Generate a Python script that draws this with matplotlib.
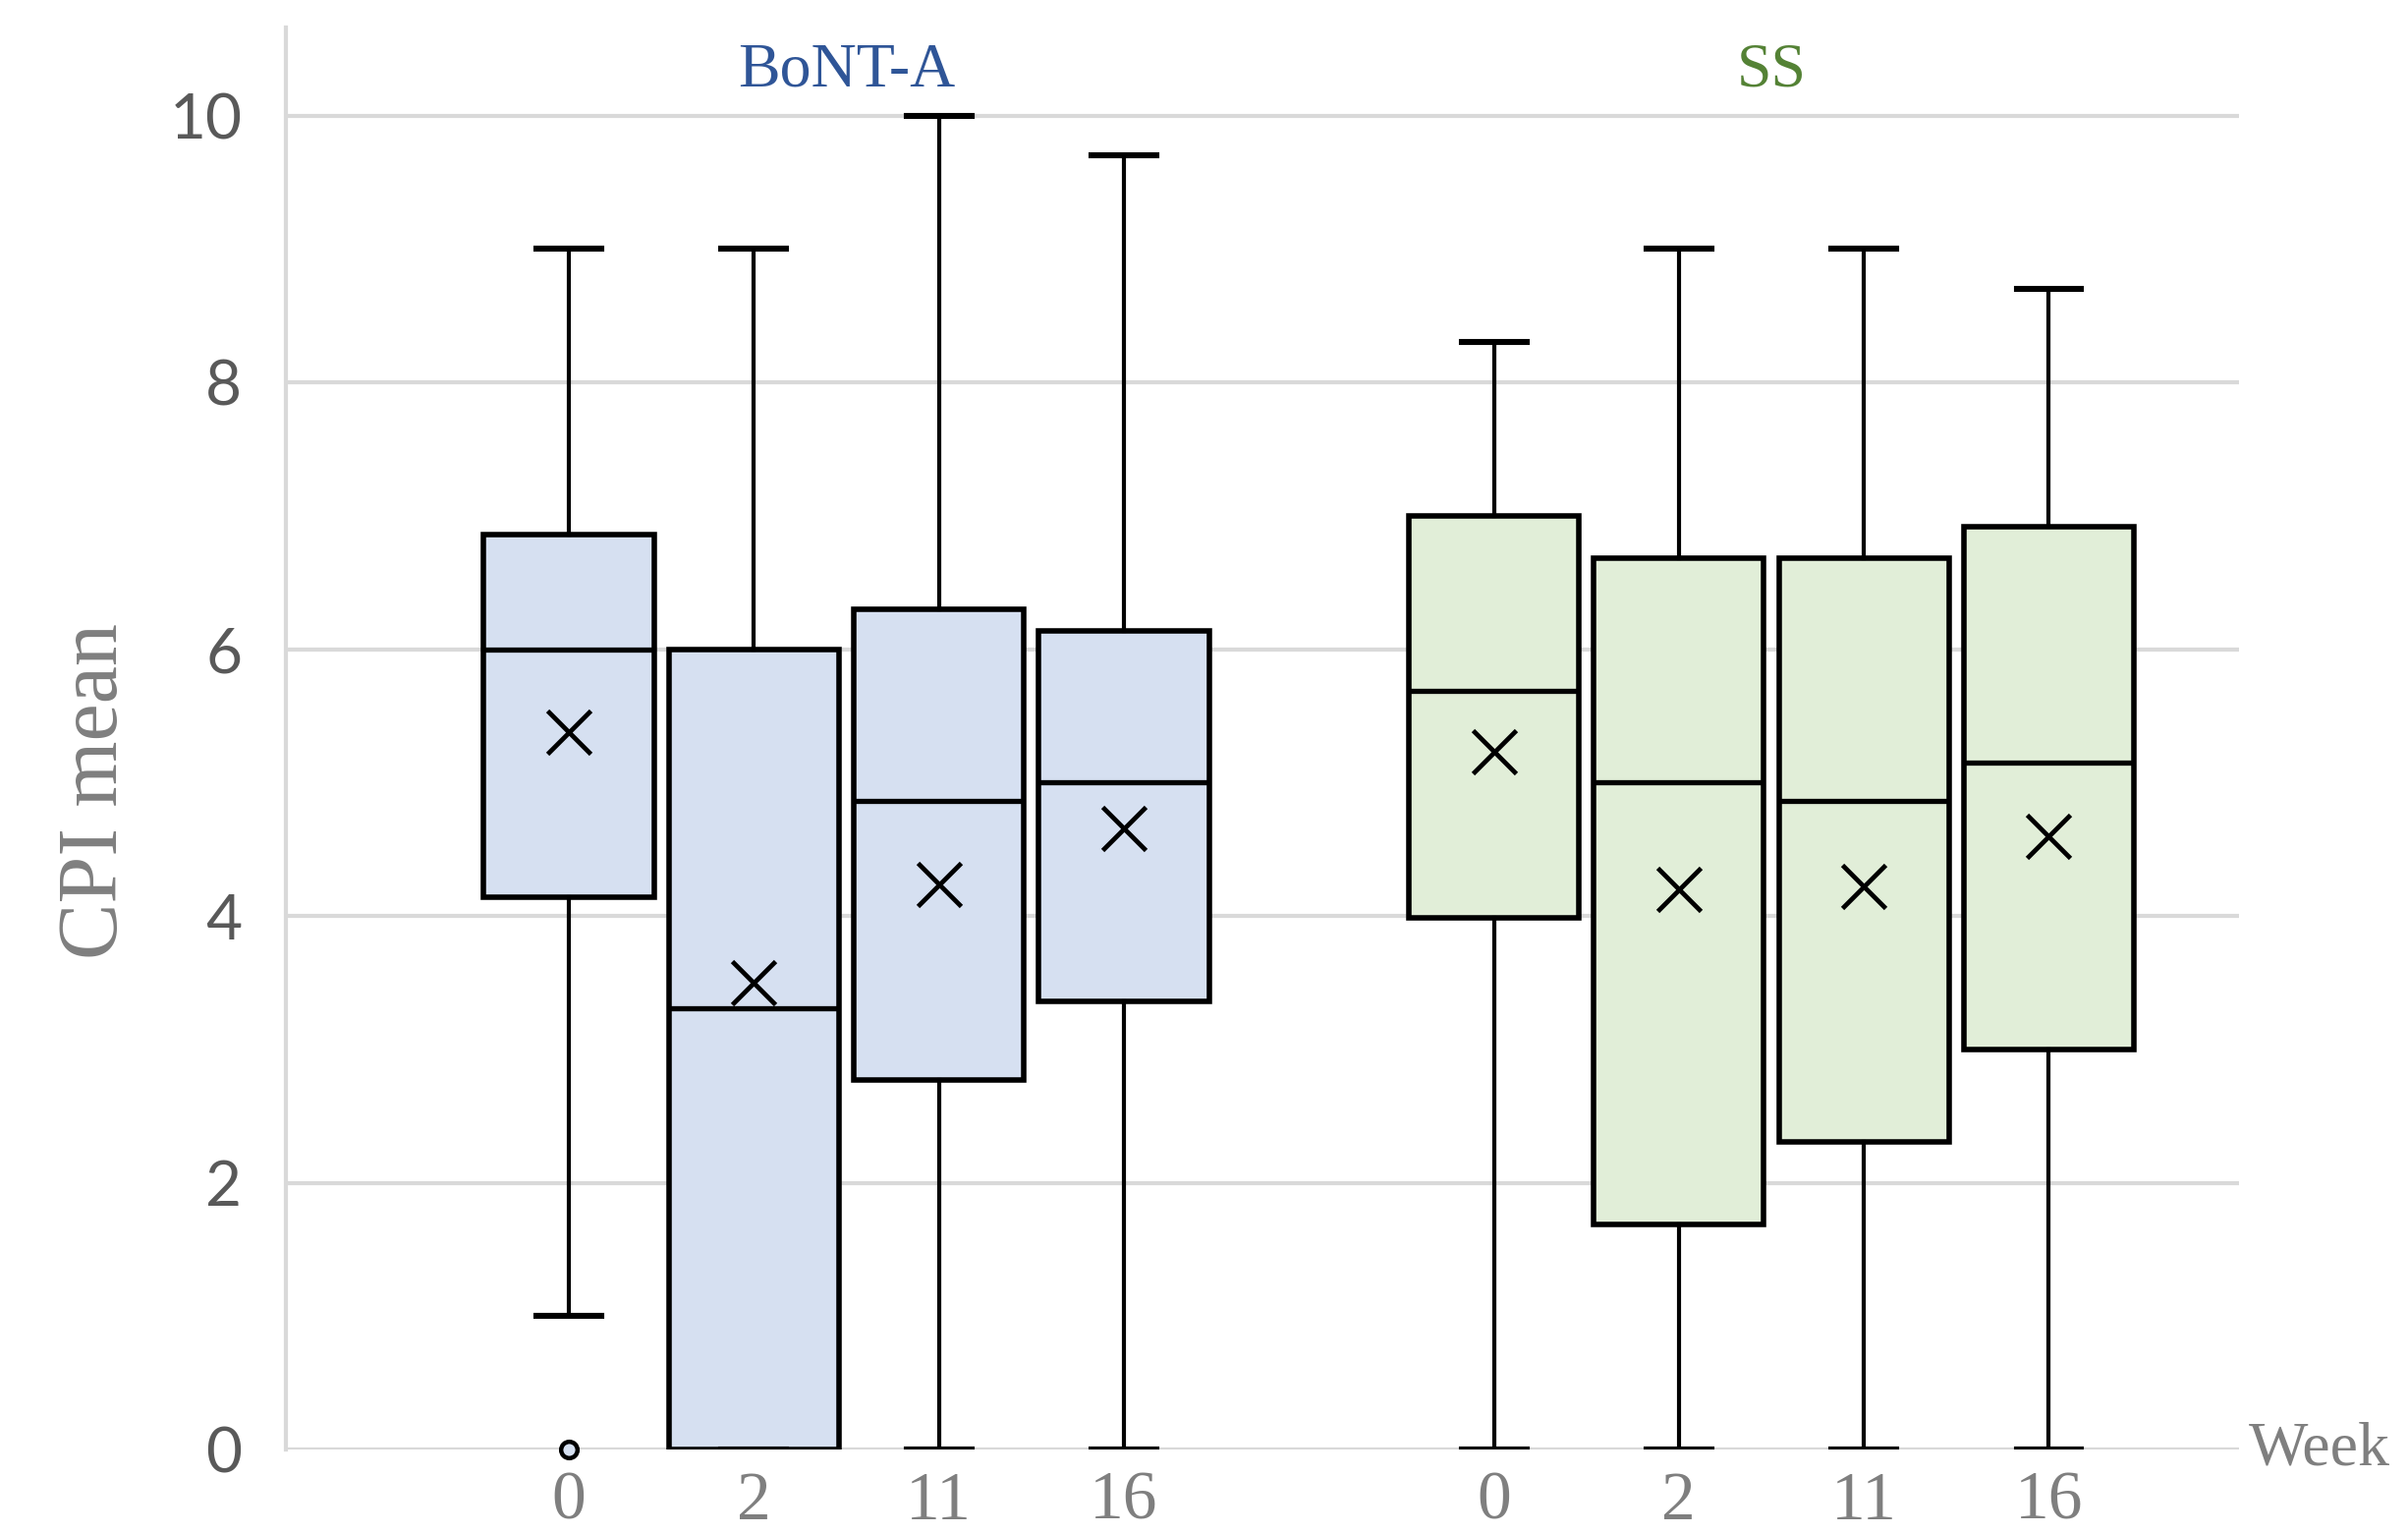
import matplotlib.pyplot as plt

# Box statistics (CPI mean per week)
weeks = ["0", "2", "11", "16"]
groups = ["BoNT-A", "SS"]

bont_whislo = [1.0, 0.0, 0.0, 0.0]
bont_q1 = [4.14, 0.0, 2.77, 3.36]
bont_med = [6.0, 3.31, 4.86, 5.0]
bont_q3 = [6.86, 6.0, 6.3, 6.14]
bont_whishi = [9.0, 9.0, 10.0, 9.7]
bont_mean = [5.38, 3.5, 4.24, 4.66]
bont_fliers = [[0.0], [], [], []]

ss_whislo = [0.0, 0.0, 0.0, 0.0]
ss_q1 = [3.99, 1.69, 2.31, 3.0]
ss_med = [5.69, 5.0, 4.86, 5.15]
ss_q3 = [7.0, 6.68, 6.68, 6.92]
ss_whishi = [8.3, 9.0, 9.0, 8.7]
ss_mean = [5.23, 4.2, 4.22, 4.6]
ss_fliers = [[], [], [], []]

bont_pos = [1, 2, 3, 4]
ss_pos = [6, 7, 8, 9]

blue_fill = "#D6E0F1"
green_fill = "#E1EED8"
grey = "#7F7F7F"
grid_c = "#D9D9D9"


def make_stats(lo, q1, med, q3, hi, mean, fliers):
    out = []
    for i in range(len(lo)):
        out.append(dict(whislo=lo[i], q1=q1[i], med=med[i], q3=q3[i],
                        whishi=hi[i], mean=mean[i], fliers=fliers[i]))
    return out


fig = plt.figure(figsize=(12.255, 7.805), dpi=200)
ax = fig.add_axes([0.1187, 0.055, 0.8113, 0.927])

for stats, pos, fill in [
    (make_stats(bont_whislo, bont_q1, bont_med, bont_q3, bont_whishi, bont_mean, bont_fliers), bont_pos, blue_fill),
    (make_stats(ss_whislo, ss_q1, ss_med, ss_q3, ss_whishi, ss_mean, ss_fliers), ss_pos, green_fill),
]:
    bp = ax.bxp(stats, positions=pos, widths=0.92, capwidths=0.35, patch_artist=True,
                showmeans=True, zorder=3,
                boxprops=dict(facecolor=fill, edgecolor="black", linewidth=2.0),
                medianprops=dict(color="black", linewidth=1.9),
                whiskerprops=dict(color="black", linewidth=1.5),
                capprops=dict(color="black", linewidth=2.2),
                meanprops=dict(marker="x", markeredgecolor="black", markersize=16,
                               markeredgewidth=1.7),
                flierprops=dict(marker="o", markerfacecolor=fill, markeredgecolor="black",
                                markersize=6, markeredgewidth=1.6))
    for f in bp["fliers"]:
        f.set_clip_on(False)

ax.set_xlim(-0.53, 10.03)
ax.set_ylim(0, 10.66)
ax.set_yticks([0, 2, 4, 6, 8, 10])
ax.set_xticks(bont_pos + ss_pos)
ax.set_xticklabels(weeks + weeks, family="Liberation Serif", fontsize=25, color=grey)
for lbl in ax.get_yticklabels():
    lbl.set_family("Lato")
    lbl.set_fontsize(23)
    lbl.set_color("#595959")
ax.tick_params(axis="both", length=0)
ax.tick_params(axis="y", pad=16)
ax.tick_params(axis="x", pad=8)

ax.yaxis.grid(True, color=grid_c, linewidth=1.5, zorder=0)
ax.set_axisbelow(True)
for s in ["top", "right", "bottom"]:
    ax.spines[s].set_visible(False)
ax.spines["left"].set_color(grid_c)
ax.spines["left"].set_linewidth(1.5)

ax.set_ylabel("CPI mean", family="Liberation Serif", fontsize=31, color=grey)
ax.yaxis.set_label_coords(-0.077, 0.463)

ax.text(10.08, 0, "Week", family="Liberation Serif", fontsize=23, color=grey,
        ha="left", va="center", clip_on=False)
ax.text(2.5, 10.33, groups[0], family="Liberation Serif", fontsize=23,
        color="#2F5597", ha="center", va="center")
ax.text(7.5, 10.33, groups[1], family="Liberation Serif", fontsize=23,
        color="#548235", ha="center", va="center")

plt.savefig("out.png", dpi=200, facecolor="white")
